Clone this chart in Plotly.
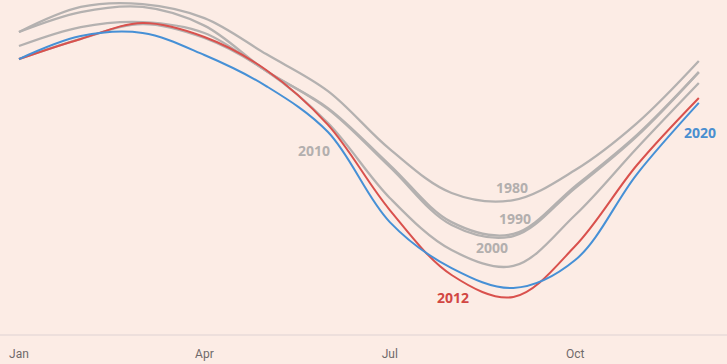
import plotly.graph_objects as go

months = ["Jan", "Feb", "Mar", "Apr", "May", "Jun", "Jul", "Aug", "Sep", "Oct", "Nov", "Dec"]
tick_labels = ["Jan", "Apr", "Jul", "Oct"]

y1980 = [14.78, 15.84, 15.96, 15.37, 13.85, 12.29, 9.84, 7.99, 7.69, 8.96, 10.94, 13.56]
y1990 = [14.78, 15.62, 15.84, 15.05, 13.14, 11.57, 9.17, 6.76, 6.26, 8.28, 10.44, 13.09]
y2000 = [14.19, 14.99, 15.20, 14.74, 13.14, 11.53, 9.09, 6.64, 6.17, 8.20, 10.39, 13.09]
y2010 = [13.64, 14.49, 15.12, 14.53, 13.14, 10.94, 7.78, 5.58, 4.91, 7.06, 9.89, 12.63]
y2012 = [13.64, 14.49, 15.16, 14.57, 13.18, 10.86, 7.27, 4.53, 3.60, 5.75, 9.17, 12.00]
y2020 = [13.64, 14.61, 14.74, 13.81, 12.50, 10.56, 6.76, 4.82, 3.98, 5.16, 8.79, 11.79]

BG = "#fcece5"
GRAY = "#b4b1b0"
RED = "#d9514d"
BLUE = "#4690d6"

x = list(range(len(months)))
fig = go.Figure()

for name, ys in [("1980", y1980), ("1990", y1990), ("2000", y2000), ("2010", y2010)]:
    fig.add_trace(go.Scatter(x=x, y=ys, mode="lines", name=name,
                             line=dict(color=GRAY, width=2.3, shape="spline", smoothing=1.0),
                             hoverinfo="skip"))
fig.add_trace(go.Scatter(x=x, y=y2012, mode="lines", name="2012",
                         line=dict(color=RED, width=2, shape="spline", smoothing=1.0)))
fig.add_trace(go.Scatter(x=x, y=y2020, mode="lines", name="2020",
                         line=dict(color=BLUE, width=2, shape="spline", smoothing=1.0)))

lab_font = "Open Sans, DejaVu Sans, sans-serif"
labels = [
    ("2010", 4.77, 9.80, "#b3afae"),
    ("1980", 7.98, 8.20, "#b3afae"),
    ("1990", 8.03, 6.93, "#b3afae"),
    ("2000", 7.65, 5.71, "#b3afae"),
    ("2012", 7.02, 3.56, "#d24743"),
    ("2020", 11.02, 10.56, "#4a8fd0"),
]
for txt, lx, ly, col in labels:
    fig.add_annotation(x=lx, y=ly, text="<b>%s</b>" % txt, showarrow=False,
                       font=dict(family=lab_font, size=14, color=col),
                       xanchor="center", yanchor="middle")

fig.update_layout(
    width=727, height=364,
    margin=dict(l=0, r=0, t=0, b=29),
    paper_bgcolor=BG, plot_bgcolor=BG,
    showlegend=False,
    xaxis=dict(range=[-0.307, 11.456], tickmode="array", tickvals=[0, 3, 6, 9],
               ticktext=tick_labels, showgrid=False, zeroline=False,
               showline=False, ticks="outside", ticklen=8, tickcolor=BG,
               tickfont=dict(family="Liberation Sans Narrow, Roboto, sans-serif", size=12, color="#6f6a6a"),
               fixedrange=True),
    yaxis=dict(range=[1.997, 16.132], showgrid=False, zeroline=False,
               showticklabels=False, showline=False, fixedrange=True),
)
fig.add_shape(type="line", xref="paper", yref="paper", x0=0, x1=1, y0=0, y1=0,
              line=dict(color="#ddd1d3", width=1.2))

fig.write_html("out.html", config={"displayModeBar": False},
               post_script="document.body.style.margin='0';document.body.style.padding='0';"
                           "document.body.style.overflow='hidden';document.body.style.background='%s';" % BG)
